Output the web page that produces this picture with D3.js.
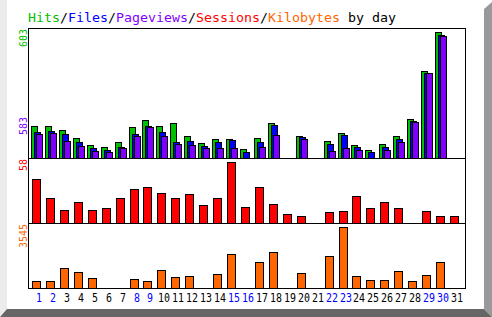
<!DOCTYPE html>
<html>
<head>
<meta charset="utf-8">
<script src="https://cdn.jsdelivr.net/npm/d3@7"></script>
<style>
  body { margin: 0; background: #fff; }
  svg { display: block; }
  text { font-family: "DejaVu Sans Mono", monospace; white-space: pre; }
</style>
</head>
<body>
<div id="chart"></div>
<script>
////// DATA ////////
var days = d3.range(1, 32);
var weekends = [1, 2, 8, 9, 15, 16, 22, 23, 29, 30];
var hits = [155,155,136,97,64,54,78,150,183,155,169,107,73,93,93,45,97,169,0,107,0,83,121,64,40,69,107,188,418,603,0];
var files = [126,131,117,78,49,40,54,113,155,126,78,83,59,78,88,30,78,160,0,102,0,69,112,54,30,54,93,179,408,590,0];
var pages = [117,121,83,59,35,30,49,107,150,107,69,64,49,49,49,0,54,112,0,93,0,35,49,40,0,40,78,174,408,583,0];
var sessions = [42,24,12,20,12,14,24,32,34,29,24,28,17,24,58,15,34,18,9,7,0,10,11,26,14,20,14,0,11,7,7];
var kbytes = [407,407,1162,930,581,0,0,523,407,1046,639,697,0,813,1976,0,1511,2092,0,872,0,1860,3545,697,465,465,988,407,755,1511,0];
var titleParts = [
  ["Hits", "#00c000"], ["/", "#000"], ["Files", "#0000ff"], ["/", "#000"],
  ["Pageviews", "#8000ff"], ["/", "#000"], ["Sessions", "#ff0000"], ["/", "#000"],
  ["Kilobytes", "#ff6600"], [" by day", "#000"]
];
////////////////////

var w = 492, h = 317;
var left = 28, right = 465;
var green = "#00c000", blue = "#0000ff", purple = "#8000ff", red = "#ff0000", orange = "#ff6600";

var svg = d3.select("#chart").append("svg")
  .attr("width", w)
  .attr("height", h);

// 3d frame
svg.append("rect").attr("x", 0).attr("y", 0).attr("width", w).attr("height", h).attr("fill", "#fff");
svg.append("polygon").attr("points", "0,0 7,0 7,309 0,317").attr("fill", "#ececec");
svg.append("polygon").attr("points", "484,9 492,2 492,317 484,309").attr("fill", "#999");
svg.append("polygon").attr("points", "0,317 7,309 484,309 492,317").attr("fill", "#666");

// scales
var x = d3.scaleLinear().domain([1, 31]).range([39, 457]);
var yTop = d3.scaleLinear().domain([0, d3.max(hits)]).range([158, 32]);
var yMid = d3.scaleLinear().domain([0, d3.max(sessions)]).range([223, 162]);
var yBot = d3.scaleLinear().domain([0, d3.max(kbytes)]).range([288, 227]);

// draws one series of bars, skipping zeros
function bars(values, y, offset, width, colour) {
  var data = days.map(function (d, i) { return {day: d, v: values[i]}; })
    .filter(function (d) { return d.v > 0; });
  svg.append("g").selectAll("rect")
    .data(data)
    .enter()
    .append("rect")
    .attr("x", function (d) { return Math.round(x(d.day)) + offset + 0.5; })
    .attr("y", function (d) { return Math.round(y(d.v)) + 0.5; })
    .attr("width", width)
    .attr("height", function (d) { return Math.round(y(0)) - Math.round(y(d.v)); })
    .attr("fill", colour)
    .attr("stroke", "#000")
    .attr("stroke-width", 1);
}

bars(hits, yTop, -8, 6, green);
bars(files, yTop, -5, 6, blue);
bars(pages, yTop, -3, 6, purple);
bars(sessions, yMid, -7, 8, red);
bars(kbytes, yBot, -7, 8, orange);

// panel frame
svg.append("rect")
  .attr("x", left + 0.5).attr("y", 28.5)
  .attr("width", right - left).attr("height", 260)
  .attr("fill", "none").attr("stroke", "#000");
[158, 223].forEach(function (yy) {
  svg.append("line")
    .attr("x1", left).attr("x2", right + 1)
    .attr("y1", yy + 0.5).attr("y2", yy + 0.5)
    .attr("stroke", "#000");
});

// title, one segment at a time, 8px per character
var cx = 28;
titleParts.forEach(function (p) {
  svg.append("text")
    .attr("x", cx).attr("y", 22)
    .attr("fill", p[1])
    .style("font-size", "13px")
    .attr("textLength", p[0].length * 8)
    .attr("lengthAdjust", "spacingAndGlyphs")
    .text(p[0]);
  cx += p[0].length * 8;
});

// rotated max labels
function upLabel(txt, yStart, colour) {
  svg.append("text")
    .attr("transform", "translate(27," + yStart + ") rotate(-90)")
    .attr("fill", colour)
    .style("font-size", "11px")
    .attr("textLength", txt.length * 6)
    .attr("lengthAdjust", "spacingAndGlyphs")
    .text(txt);
}
upLabel(String(d3.max(hits)), 47, green);
upLabel(String(d3.max(pages)), 135, purple);
upLabel(String(d3.max(sessions)), 171, red);
upLabel(String(d3.max(kbytes)), 248, orange);

// day labels
svg.append("g").selectAll("text")
  .data(days)
  .enter()
  .append("text")
  .attr("x", function (d) { return Math.round(x(d)); })
  .attr("y", 302)
  .attr("text-anchor", "middle")
  .attr("fill", function (d) { return weekends.indexOf(d) >= 0 ? blue : "#000"; })
  .style("font-size", "11.5px")
  .attr("textLength", function (d) { return String(d).length * 6; })
  .attr("lengthAdjust", "spacingAndGlyphs")
  .text(function (d) { return d; });
</script>
</body>
</html>
